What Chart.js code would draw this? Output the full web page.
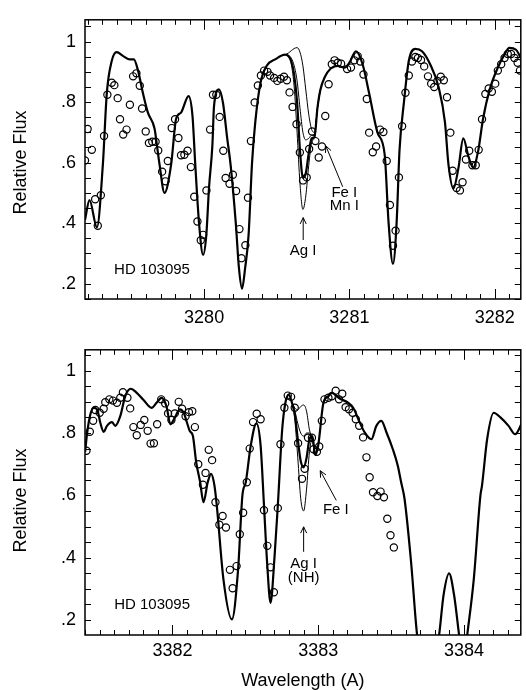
<!DOCTYPE html>
<html>
<head>
<meta charset="utf-8">
<script src="https://cdn.jsdelivr.net/npm/chart.js@4.4.0/dist/chart.umd.min.js"></script>
<style>
  html, body { margin: 0; padding: 0; background: #fff; }
  #wrap { position: relative; width: 526px; height: 690px; }
  canvas { position: absolute; left: 0; }
</style>
</head>
<body>
<div id="wrap">
  <canvas id="upper" width="526" height="330" style="top:0"></canvas>
  <canvas id="lower" width="526" height="360" style="top:330px"></canvas>
</div>
<script>
// ---- upper panel (3279-3282 A) ----
var synWaveA = [3279.18, 3279.211, 3279.262, 3279.303, 3279.330, 3279.364, 3279.398, 3279.443, 3279.489, 3279.516,
  3279.545, 3279.579, 3279.613, 3279.659, 3279.675, 3279.693, 3279.727, 3279.773, 3279.807, 3279.841,
  3279.893, 3279.920, 3279.939, 3279.965, 3279.993, 3280.015, 3280.034, 3280.057, 3280.068, 3280.102,
  3280.130, 3280.159, 3280.182, 3280.218, 3280.240, 3280.261, 3280.282, 3280.306, 3280.330, 3280.352,
  3280.387, 3280.431, 3280.489, 3280.557, 3280.58, 3280.60, 3280.62, 3280.64, 3280.66, 3280.68,
  3280.70, 3280.72, 3280.74, 3280.76, 3280.78, 3280.80, 3280.83, 3280.873, 3280.920, 3280.966,
  3281.00, 3281.045, 3281.091, 3281.136, 3281.193, 3281.243, 3281.27, 3281.300, 3281.325, 3281.345,
  3281.375, 3281.409, 3281.454, 3281.500, 3281.556, 3281.614, 3281.658, 3281.682, 3281.716, 3281.750,
  3281.784, 3281.820, 3281.852, 3281.886, 3281.920, 3281.965, 3282.022, 3282.067, 3282.102, 3282.147, 3282.181];
var synFluxA = [0.41, 0.476, 0.386, 0.594, 0.829, 0.936, 0.965, 0.952, 0.941, 0.941,
  0.904, 0.829, 0.765, 0.712, 0.658, 0.594, 0.50, 0.594, 0.744, 0.765,
  0.82, 0.754, 0.594, 0.40, 0.295, 0.36, 0.519, 0.658, 0.786, 0.842,
  0.797, 0.68, 0.594, 0.40, 0.25, 0.183, 0.25, 0.36, 0.60, 0.733,
  0.861, 0.92, 0.941, 0.957, 0.952, 0.935, 0.89, 0.80, 0.64, 0.55,
  0.565, 0.63, 0.68, 0.685, 0.78, 0.84, 0.882, 0.912, 0.92, 0.914,
  0.93, 0.968, 0.925, 0.829, 0.70, 0.626, 0.40, 0.265, 0.40, 0.64,
  0.797, 0.936, 0.976, 0.968, 0.925, 0.85, 0.733, 0.594, 0.514, 0.58,
  0.68, 0.62, 0.584, 0.637, 0.744, 0.84, 0.914, 0.957, 0.979, 0.973, 0.946];

// alternative Ag abundances around Ag I 3280.68
var agWaveA = [3280.56, 3280.58, 3280.60, 3280.62, 3280.64, 3280.66, 3280.68, 3280.70, 3280.72, 3280.74, 3280.76, 3280.78, 3280.80];
var agNoneA = [0.957, 0.962, 0.970, 0.977, 0.980, 0.965, 0.92, 0.84, 0.76, 0.71, 0.70, 0.78, 0.84];
var agLowA = [0.957, 0.955, 0.945, 0.92, 0.87, 0.78, 0.70, 0.675, 0.68, 0.69, 0.69, 0.78, 0.84];
var agHighA = [0.957, 0.950, 0.925, 0.85, 0.70, 0.53, 0.445, 0.49, 0.59, 0.665, 0.685, 0.78, 0.84];

var obsWaveA = [3279.180, 3279.198, 3279.227, 3279.250, 3279.268, 3279.289, 3279.311, 3279.334, 3279.364, 3279.382,
  3279.405, 3279.421, 3279.443, 3279.466, 3279.489, 3279.511, 3279.534, 3279.557, 3279.573, 3279.598,
  3279.620, 3279.643, 3279.666, 3279.684, 3279.711, 3279.734, 3279.750, 3279.777, 3279.800, 3279.823,
  3279.841, 3279.864, 3279.886, 3279.909, 3279.932, 3279.954, 3279.977, 3279.993, 3280.016, 3280.041,
  3280.061, 3280.084, 3280.107, 3280.132, 3280.148, 3280.175, 3280.198, 3280.220, 3280.243, 3280.257,
  3280.284, 3280.302, 3280.322, 3280.348, 3280.370, 3280.391, 3280.413, 3280.436, 3280.454, 3280.482,
  3280.504, 3280.527, 3280.550, 3280.570, 3280.588, 3280.609, 3280.636, 3280.659, 3280.681, 3280.706,
  3280.723, 3280.743, 3280.766, 3280.789, 3280.811, 3280.834, 3280.857, 3280.879, 3280.898, 3280.920,
  3280.943, 3280.984, 3281.011, 3281.034, 3281.057, 3281.075, 3281.097, 3281.120, 3281.136, 3281.161,
  3281.184, 3281.211, 3281.234, 3281.257, 3281.279, 3281.300, 3281.318, 3281.341, 3281.363, 3281.386,
  3281.409, 3281.431, 3281.454, 3281.472, 3281.493, 3281.515, 3281.541, 3281.563, 3281.584, 3281.606,
  3281.629, 3281.650, 3281.672, 3281.695, 3281.711, 3281.738, 3281.761, 3281.779, 3281.802, 3281.825,
  3281.847, 3281.870, 3281.890, 3281.913, 3281.936, 3281.959, 3281.981, 3282.004, 3282.022, 3282.045,
  3282.068, 3282.090, 3282.113, 3282.136, 3282.158, 3282.174];
var obsFluxA = [0.607, 0.711, 0.642, 0.479, 0.391, 0.492, 0.688, 0.824, 0.864, 0.856,
  0.813, 0.743, 0.693, 0.709, 0.791, 0.885, 0.895, 0.854, 0.779, 0.703,
  0.665, 0.669, 0.669, 0.640, 0.570, 0.538, 0.605, 0.714, 0.743, 0.681,
  0.624, 0.626, 0.639, 0.585, 0.487, 0.405, 0.343, 0.361, 0.508, 0.709,
  0.824, 0.824, 0.751, 0.639, 0.549, 0.530, 0.560, 0.506, 0.380, 0.284,
  0.327, 0.484, 0.671, 0.799, 0.855, 0.888, 0.904, 0.900, 0.888, 0.880,
  0.870, 0.877, 0.884, 0.872, 0.832, 0.784, 0.727, 0.633, 0.541, 0.551,
  0.645, 0.703, 0.671, 0.617, 0.653, 0.754, 0.859, 0.925, 0.938, 0.930,
  0.927, 0.909, 0.914, 0.938, 0.952, 0.934, 0.891, 0.810, 0.699, 0.634,
  0.653, 0.709, 0.701, 0.605, 0.460, 0.325, 0.375, 0.551, 0.720, 0.831,
  0.888, 0.934, 0.949, 0.946, 0.939, 0.918, 0.885, 0.861, 0.850, 0.870,
  0.884, 0.872, 0.816, 0.699, 0.573, 0.516, 0.508, 0.535, 0.610, 0.639,
  0.591, 0.591, 0.642, 0.743, 0.827, 0.845, 0.834, 0.861, 0.904, 0.925,
  0.946, 0.959, 0.959, 0.946, 0.930, 0.904];

// ---- lower panel (3381-3384 A) ----
var synWaveB = [3381.401, 3381.415, 3381.437, 3381.460, 3381.483, 3381.505, 3381.528, 3381.551, 3381.585, 3381.608,
  3381.642, 3381.676, 3381.714, 3381.755, 3381.800, 3381.857, 3381.891, 3381.925, 3381.959, 3381.986,
  3382.016, 3382.050, 3382.077, 3382.100, 3382.118, 3382.140, 3382.163, 3382.190, 3382.213, 3382.242,
  3382.265, 3382.288, 3382.304, 3382.350, 3382.408, 3382.450, 3382.480, 3382.503, 3382.537, 3382.576,
  3382.605, 3382.628, 3382.650, 3382.673, 3382.700, 3382.723, 3382.753, 3382.775, 3382.798, 3382.82,
  3382.84, 3382.86, 3382.88, 3382.90, 3382.92, 3382.94, 3382.96, 3382.98, 3383.00, 3383.036,
  3383.070, 3383.093, 3383.150, 3383.206, 3383.240, 3383.286, 3383.320, 3383.365, 3383.399, 3383.433,
  3383.470, 3383.512, 3383.546, 3383.569, 3383.592, 3383.637, 3383.678, 3383.750, 3383.830, 3383.860,
  3383.898, 3383.932, 3383.966, 3383.995, 3384.023, 3384.068, 3384.113, 3384.124, 3384.159, 3384.204,
  3384.250, 3384.306, 3384.351, 3384.399];
var synFluxB = [0.740, 0.801, 0.860, 0.881, 0.876, 0.833, 0.804, 0.823, 0.835, 0.823,
  0.854, 0.918, 0.942, 0.929, 0.907, 0.881, 0.897, 0.913, 0.886, 0.828,
  0.849, 0.876, 0.865, 0.833, 0.807, 0.791, 0.706, 0.642, 0.578, 0.642,
  0.669, 0.632, 0.568, 0.33, 0.202, 0.36, 0.600, 0.642, 0.759, 0.831,
  0.759, 0.568, 0.38, 0.255, 0.40, 0.568, 0.812, 0.897, 0.923, 0.897,
  0.86, 0.78, 0.71, 0.69, 0.72, 0.78, 0.79, 0.73, 0.76, 0.897,
  0.918, 0.929, 0.91, 0.897, 0.881, 0.833, 0.801, 0.780, 0.823, 0.839,
  0.80, 0.748, 0.695, 0.642, 0.59, 0.387, 0.154, -0.05, 0.154, 0.28,
  0.350, 0.281, 0.154, 0.05, 0.154, 0.334, 0.600, 0.632, 0.780, 0.865,
  0.85, 0.823, 0.796, 0.833];

// alternative Ag abundances around Ag I 3382.89
var agWaveB = [3382.82, 3382.84, 3382.86, 3382.88, 3382.90, 3382.92, 3382.94, 3382.96, 3382.98, 3383.00];
var agNoneB = [0.897, 0.88, 0.875, 0.885, 0.89, 0.87, 0.81, 0.78, 0.73, 0.76];
var agLowB = [0.897, 0.87, 0.83, 0.80, 0.79, 0.80, 0.80, 0.78, 0.73, 0.76];
var agHighB = [0.897, 0.84, 0.72, 0.59, 0.55, 0.62, 0.74, 0.78, 0.73, 0.76];

var obsWaveB = [3381.410, 3381.433, 3381.456, 3381.471, 3381.501, 3381.528, 3381.539, 3381.567, 3381.592, 3381.619,
  3381.642, 3381.660, 3381.691, 3381.710, 3381.732, 3381.755, 3381.782, 3381.807, 3381.830, 3381.850,
  3381.873, 3381.895, 3381.923, 3381.950, 3381.970, 3381.993, 3382.016, 3382.043, 3382.066, 3382.090,
  3382.113, 3382.136, 3382.154, 3382.177, 3382.209, 3382.227, 3382.249, 3382.272, 3382.295, 3382.322,
  3382.344, 3382.367, 3382.394, 3382.413, 3382.440, 3382.462, 3382.485, 3382.510, 3382.530, 3382.553,
  3382.578, 3382.605, 3382.628, 3382.651, 3382.673, 3382.696, 3382.723, 3382.741, 3382.768, 3382.791,
  3382.814, 3382.839, 3382.862, 3382.889, 3382.907, 3382.930, 3382.957, 3382.968, 3382.991, 3383.007,
  3383.025, 3383.043, 3383.070, 3383.093, 3383.120, 3383.143, 3383.165, 3383.188, 3383.211, 3383.236,
  3383.258, 3383.281, 3383.308, 3383.331, 3383.353, 3383.376, 3383.406, 3383.428, 3383.451, 3383.474,
  3383.496, 3383.519];
var obsFluxB = [0.743, 0.804, 0.839, 0.874, 0.865, 0.878, 0.899, 0.908, 0.904, 0.897,
  0.913, 0.931, 0.913, 0.879, 0.819, 0.793, 0.826, 0.842, 0.807, 0.766,
  0.767, 0.828, 0.908, 0.895, 0.863, 0.842, 0.863, 0.900, 0.878, 0.854,
  0.867, 0.870, 0.819, 0.700, 0.634, 0.672, 0.746, 0.713, 0.578, 0.506,
  0.534, 0.497, 0.361, 0.302, 0.373, 0.475, 0.544, 0.642, 0.750, 0.835,
  0.862, 0.844, 0.552, 0.438, 0.369, 0.289, 0.559, 0.764, 0.881, 0.920,
  0.916, 0.881, 0.767, 0.653, 0.685, 0.785, 0.785, 0.748, 0.740, 0.757,
  0.839, 0.908, 0.913, 0.918, 0.936, 0.908, 0.926, 0.883, 0.876, 0.865,
  0.844, 0.823, 0.786, 0.722, 0.658, 0.610, 0.598, 0.612, 0.594, 0.525,
  0.472, 0.433];

// tick labels
var xTickValA = [3280, 3281, 3282];
var xTickLabA = ['3280', '3281', '3282'];
var xTickValB = [3382, 3383, 3384];
var xTickLabB = ['3382', '3383', '3384'];
var yTickVal = [0.2, 0.4, 0.6, 0.8, 1.0];
var yTickLab = ['.2', '.4', '.6', '.8', '1'];

var FONT = '"Liberation Sans", Arial, Helvetica, sans-serif';

function pts(xs, ys) {
  return xs.map(function (v, i) { return { x: v, y: ys[i] }; });
}

function near(v, w) { return Math.abs(v - w) < 1e-6; }

function labelFor(vals, labs) {
  return function (value) {
    for (var i = 0; i < vals.length; i++) {
      if (near(vals[i], value)) return labs[i];
    }
    return '';
  };
}

function stepTicks(step) {
  return function (scale) {
    var out = [];
    var i0 = Math.ceil(scale.min / step - 1e-6), i1 = Math.floor(scale.max / step + 1e-6);
    for (var i = i0; i <= i1; i++) out.push({ value: +(i * step).toFixed(4) });
    scale.ticks = out;
  };
}

function segment(ctx, x0, y0, x1, y1) {
  ctx.beginPath();
  ctx.moveTo(x0, y0);
  ctx.lineTo(x1, y1);
  ctx.stroke();
}

// frame, inward ticks, y title, labels and arrows
var panelDecor = {
  id: 'panelDecor',
  afterDatasetsDraw: function (chart, args, opts) {
    var ctx = chart.ctx, a = chart.chartArea;
    var xs = chart.scales.x, ys = chart.scales.y;
    ctx.save();
    ctx.strokeStyle = '#000';
    ctx.lineWidth = 1;
    xs.ticks.forEach(function (t) {
      var px = Math.round(xs.getPixelForValue(t.value)) + 0.5;
      var len = near(t.value, Math.round(t.value)) ? 10 : 5;
      segment(ctx, px, a.bottom, px, a.bottom - len);
      segment(ctx, px, a.top, px, a.top + len);
    });
    ys.ticks.forEach(function (t) {
      var py = Math.round(ys.getPixelForValue(t.value)) + 0.5;
      segment(ctx, a.left, py, a.left + 6, py);
      segment(ctx, a.right, py, a.right - 6, py);
    });
    ctx.lineWidth = 1.5;
    ctx.strokeRect(a.left, a.top, a.right - a.left, a.bottom - a.top);

    ctx.fillStyle = '#000';
    ctx.textBaseline = 'middle';
    ctx.textAlign = 'center';
    ctx.font = '18px ' + FONT;
    ctx.save();
    ctx.translate(21, (a.top + a.bottom) / 2 + (opts.titleShift || 0));
    ctx.rotate(-Math.PI / 2);
    ctx.fillText('Relative Flux', 0, 0);
    ctx.restore();

    ctx.font = '15px ' + FONT;
    (opts.labels || []).forEach(function (n) {
      ctx.textAlign = n.align || 'center';
      ctx.fillText(n.text, xs.getPixelForValue(n.x), ys.getPixelForValue(n.y));
    });
    ctx.lineWidth = 1;
    (opts.arrows || []).forEach(function (r) {
      var x0 = xs.getPixelForValue(r.x0), y0 = ys.getPixelForValue(r.y0);
      var x1 = xs.getPixelForValue(r.x1), y1 = ys.getPixelForValue(r.y1);
      segment(ctx, x0, y0, x1, y1);
      var ang = Math.atan2(y1 - y0, x1 - x0);
      [0.45, -0.45].forEach(function (d) {
        segment(ctx, x1, y1, x1 - 7 * Math.cos(ang + d), y1 - 7 * Math.sin(ang + d));
      });
    });
    ctx.restore();
  }
};

function makePanel(id, p) {
  var thin = function (ys) {
    return { data: pts(p.agWave, ys), showLine: true, borderColor: '#000', borderWidth: 1,
      pointRadius: 0, cubicInterpolationMode: 'monotone', fill: false };
  };
  return new Chart(document.getElementById(id), {
    type: 'scatter',
    data: {
      datasets: [
        { data: pts(p.obsWave, p.obsFlux), showLine: false, pointStyle: 'circle', pointRadius: 3.6,
          borderColor: '#000', borderWidth: 1.2, backgroundColor: 'rgba(0,0,0,0)' },
        thin(p.agNone), thin(p.agLow), thin(p.agHigh),
        { data: pts(p.synWave, p.synFlux), showLine: true, borderColor: '#000', borderWidth: 2.2,
          pointRadius: 0, cubicInterpolationMode: 'monotone', fill: false }
      ]
    },
    options: {
      responsive: false,
      animation: false,
      devicePixelRatio: 1,
      layout: { padding: { top: p.padTop, right: 1.5, left: 0, bottom: 0 } },
      plugins: {
        legend: { display: false },
        tooltip: { enabled: false },
        panelDecor: { labels: p.labels, arrows: p.arrows, titleShift: p.titleShift }
      },
      scales: {
        x: {
          type: 'linear', min: p.xmin, max: p.xmax,
          grid: { display: false, drawTicks: false },
          border: { display: false },
          afterBuildTicks: stepTicks(0.1),
          afterFit: function (s) { s.height = p.xHeight; },
          ticks: { autoSkip: false, maxRotation: 0, padding: p.xPad, color: '#000',
            font: { family: FONT, size: 18 }, callback: labelFor(p.xTickVal, p.xTickLab) },
          title: { display: p.xTitle, text: 'Wavelength (A)', color: '#000',
            font: { family: FONT, size: 18, lineHeight: 1 }, padding: { top: 0, bottom: 0 } }
        },
        y: {
          type: 'linear', min: p.ymin, max: p.ymax,
          grid: { display: false, drawTicks: false },
          border: { display: false },
          afterBuildTicks: stepTicks(0.05),
          afterFit: function (s) { s.width = 85; },
          ticks: { autoSkip: false, padding: 9, color: '#000',
            font: { family: FONT, size: 18 }, callback: labelFor(yTickVal, yTickLab) }
        }
      }
    },
    plugins: [panelDecor]
  });
}

makePanel('upper', {
  synWave: synWaveA, synFlux: synFluxA, obsWave: obsWaveA, obsFlux: obsFluxA,
  agWave: agWaveA, agNone: agNoneA, agLow: agLowA, agHigh: agHighA,
  xmin: 3279.18, xmax: 3282.18, ymin: 0.149, ymax: 1.072,
  xTickVal: xTickValA, xTickLab: xTickLabA,
  padTop: 11, xHeight: 31, xPad: 8, xTitle: false, titleShift: 3,
  labels: [
    { text: 'HD 103095', x: 3279.38, y: 0.246, align: 'left' },
    { text: 'Ag I', x: 3280.682, y: 0.309 },
    { text: 'Fe I', x: 3280.965, y: 0.501 },
    { text: 'Mn I', x: 3280.966, y: 0.458 }
  ],
  arrows: [
    { x0: 3280.682, y0: 0.344, x1: 3280.682, y1: 0.418 },
    { x0: 3280.954, y0: 0.520, x1: 3280.838, y1: 0.655 }
  ]
});

makePanel('lower', {
  synWave: synWaveB, synFlux: synFluxB, obsWave: obsWaveB, obsFlux: obsFluxB,
  agWave: agWaveB, agNone: agNoneB, agLow: agLowB, agHigh: agHighB,
  xmin: 3381.40, xmax: 3384.39, ymin: 0.152, ymax: 1.067,
  xTickVal: xTickValB, xTickLab: xTickLabB,
  padTop: 18, xHeight: 55, xPad: 5, xTitle: true, titleShift: 8,
  labels: [
    { text: 'HD 103095', x: 3381.60, y: 0.249, align: 'left' },
    { text: 'Ag I', x: 3382.90, y: 0.380 },
    { text: '(NH)', x: 3382.90, y: 0.334 },
    { text: 'Fe I', x: 3383.121, y: 0.555 }
  ],
  arrows: [
    { x0: 3382.90, y0: 0.419, x1: 3382.90, y1: 0.499 },
    { x0: 3383.124, y0: 0.584, x1: 3383.014, y1: 0.679 }
  ]
});
</script>
</body>
</html>
